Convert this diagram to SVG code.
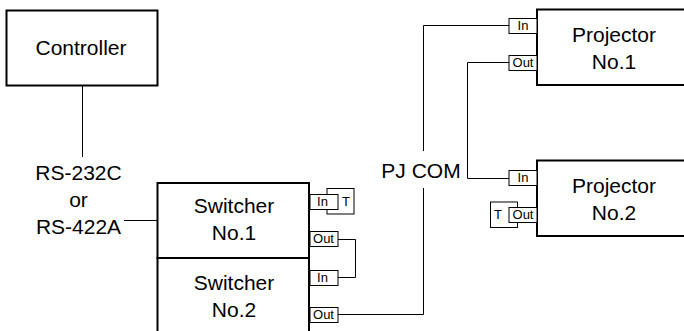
<svg xmlns="http://www.w3.org/2000/svg" width="684" height="331" viewBox="0 0 684 331">
<style>
text{font-family:"Liberation Sans",Arial,sans-serif;fill:#000;text-anchor:middle}
.l{font-size:21px}
.p{font-size:13px}
.b{fill:#fff;stroke:#000;stroke-width:2}
.q{fill:#fff;stroke:#000;stroke-width:1}
.c{fill:none;stroke:#000;stroke-width:1}
</style>
<rect width="684" height="331" fill="#fff"/>
<g id="connectors">
<path class="c" d="M82.500 85V157M124 220.500H157M338 239.500H355.500V277.500H338M338 314.500H423.500V188M423.500 151V25.500H509M509 62.500H467.500V178.500H509"/>
</g>
<g id="controller"><rect class="b" x="6.500" y="10.500" width="151" height="75"/><text class="l" x="81" y="55">Controller</text></g>
<g id="label-serial"><text class="l" x="78.500" y="180">RS-232C</text><text class="l" x="78.500" y="207">or</text><text class="l" x="78.500" y="234">RS-422A</text></g>
<g id="label-pjcom"><text class="l" x="421" y="178">PJ COM</text></g>
<g id="switcher1">
<rect class="b" x="157.500" y="183" width="151.500" height="75"/>
<text class="l" x="234" y="213">Switcher</text><text class="l" x="234" y="240">No.1</text>
<rect class="q" x="327" y="188.500" width="27" height="25.500"/><text class="p" x="346" y="206">T</text>
<rect class="q" x="310" y="194.500" width="28" height="15"/><text class="p" x="322.500" y="206">In</text>
<rect class="q" x="310" y="231.500" width="28" height="15"/><text class="p" x="323.500" y="243">Out</text>
</g>
<g id="switcher2">
<rect class="b" x="157.500" y="258" width="151.500" height="75"/>
<text class="l" x="234" y="290">Switcher</text><text class="l" x="234" y="317">No.2</text>
<rect class="q" x="310" y="270.500" width="28" height="15"/><text class="p" x="322.500" y="282">In</text>
<rect class="q" x="310" y="307.500" width="28" height="15"/><text class="p" x="323.500" y="319">Out</text>
</g>
<g id="projector1">
<rect class="b" x="537" y="9.500" width="151" height="75.500"/>
<text class="l" x="614" y="42">Projector</text><text class="l" x="614" y="69">No.1</text>
<rect class="q" x="509" y="18.500" width="28" height="15"/><text class="p" x="523" y="30">In</text>
<rect class="q" x="509" y="55.500" width="28" height="15"/><text class="p" x="523" y="67">Out</text>
</g>
<g id="projector2">
<rect class="b" x="537" y="160.500" width="151" height="75.500"/>
<text class="l" x="614" y="193">Projector</text><text class="l" x="614" y="220">No.2</text>
<rect class="q" x="509" y="170.500" width="28" height="15"/><text class="p" x="523" y="182">In</text>
<rect class="q" x="490.500" y="202" width="27" height="25.500"/><text class="p" x="498" y="219">T</text>
<rect class="q" x="509" y="207.500" width="28" height="15"/><text class="p" x="523" y="219">Out</text>
</g>
</svg>
